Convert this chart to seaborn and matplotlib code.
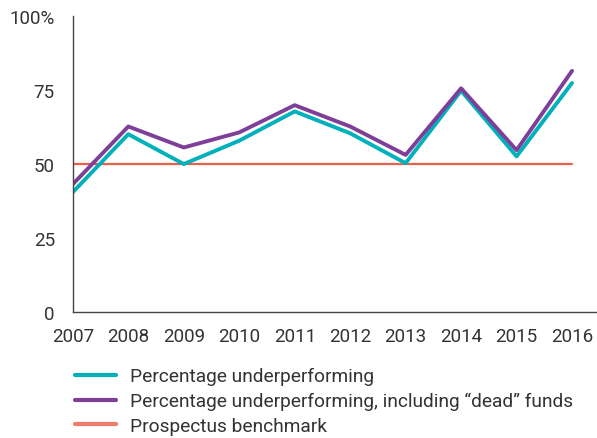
import matplotlib.pyplot as plt
import pandas as pd
import seaborn as sns

years = [2007, 2008, 2009, 2010, 2011, 2012, 2013, 2014, 2015, 2016]
under = [40.5, 60.1, 50.0, 57.9, 67.8, 60.4, 50.3, 74.8, 52.6, 77.4]
under_dead = [43.2, 62.7, 55.6, 60.7, 69.9, 62.7, 53.1, 75.6, 54.7, 81.5]
benchmark = [50] * len(years)
yticks = [0, 25, 50, 75, 100]
ytick_labels = ["0", "25", "50", "75", "100%"]

df = pd.DataFrame({"year": years, "under": under, "dead": under_dead, "bench": benchmark})

sns.set_style("white")
plt.rcParams["font.family"] = ["Roboto", "DejaVu Sans"]
text_col = "#333333"

fig = plt.figure(figsize=(5.97, 4.39), dpi=100)
ax = fig.add_axes([0.122, 0.287, 0.878, 0.674])

sns.lineplot(data=df, x="year", y="bench", ax=ax, color="#e8604c", lw=1.6,
             label="Prospectus benchmark")
sns.lineplot(data=df, x="year", y="under", ax=ax, color="#00b1bb", lw=2.8,
             label="Percentage underperforming")
sns.lineplot(data=df, x="year", y="dead", ax=ax, color="#7d3f98", lw=2.8,
             label="Percentage underperforming, including \u201cdead\u201d funds")

ax.set_xlim(2007, 2016.45)
ax.set_ylim(0, 100)
ax.set_xticks(years)
ax.set_xticklabels([str(y) for y in years])
ax.set_yticks(yticks)
ax.set_yticklabels(ytick_labels)
ax.set_xlabel("")
ax.set_ylabel("")
for s in ["top", "right"]:
    ax.spines[s].set_visible(False)
for s in ["left", "bottom"]:
    ax.spines[s].set_color("#444444")
    ax.spines[s].set_linewidth(1.0)
ax.tick_params(axis="both", direction="out", length=10, width=1.0, color="#555555",
               labelsize=13.5, labelcolor=text_col, pad=3)
ax.tick_params(axis="x", pad=1)

h, l = ax.get_legend_handles_labels()
order = [1, 2, 0]
leg = ax.legend([h[i] for i in order], [l[i] for i in order], loc="upper left",
                bbox_to_anchor=(-0.028, -0.128), frameon=False, fontsize=13.8,
                handlelength=2.1, handletextpad=0.75, labelspacing=0.35)
for t in leg.get_texts():
    t.set_color(text_col)
for line in leg.get_lines():
    line.set_linewidth(3)
leg.get_lines()[2].set_color("#f07c6c")

fig.savefig("out.png", dpi=100)
